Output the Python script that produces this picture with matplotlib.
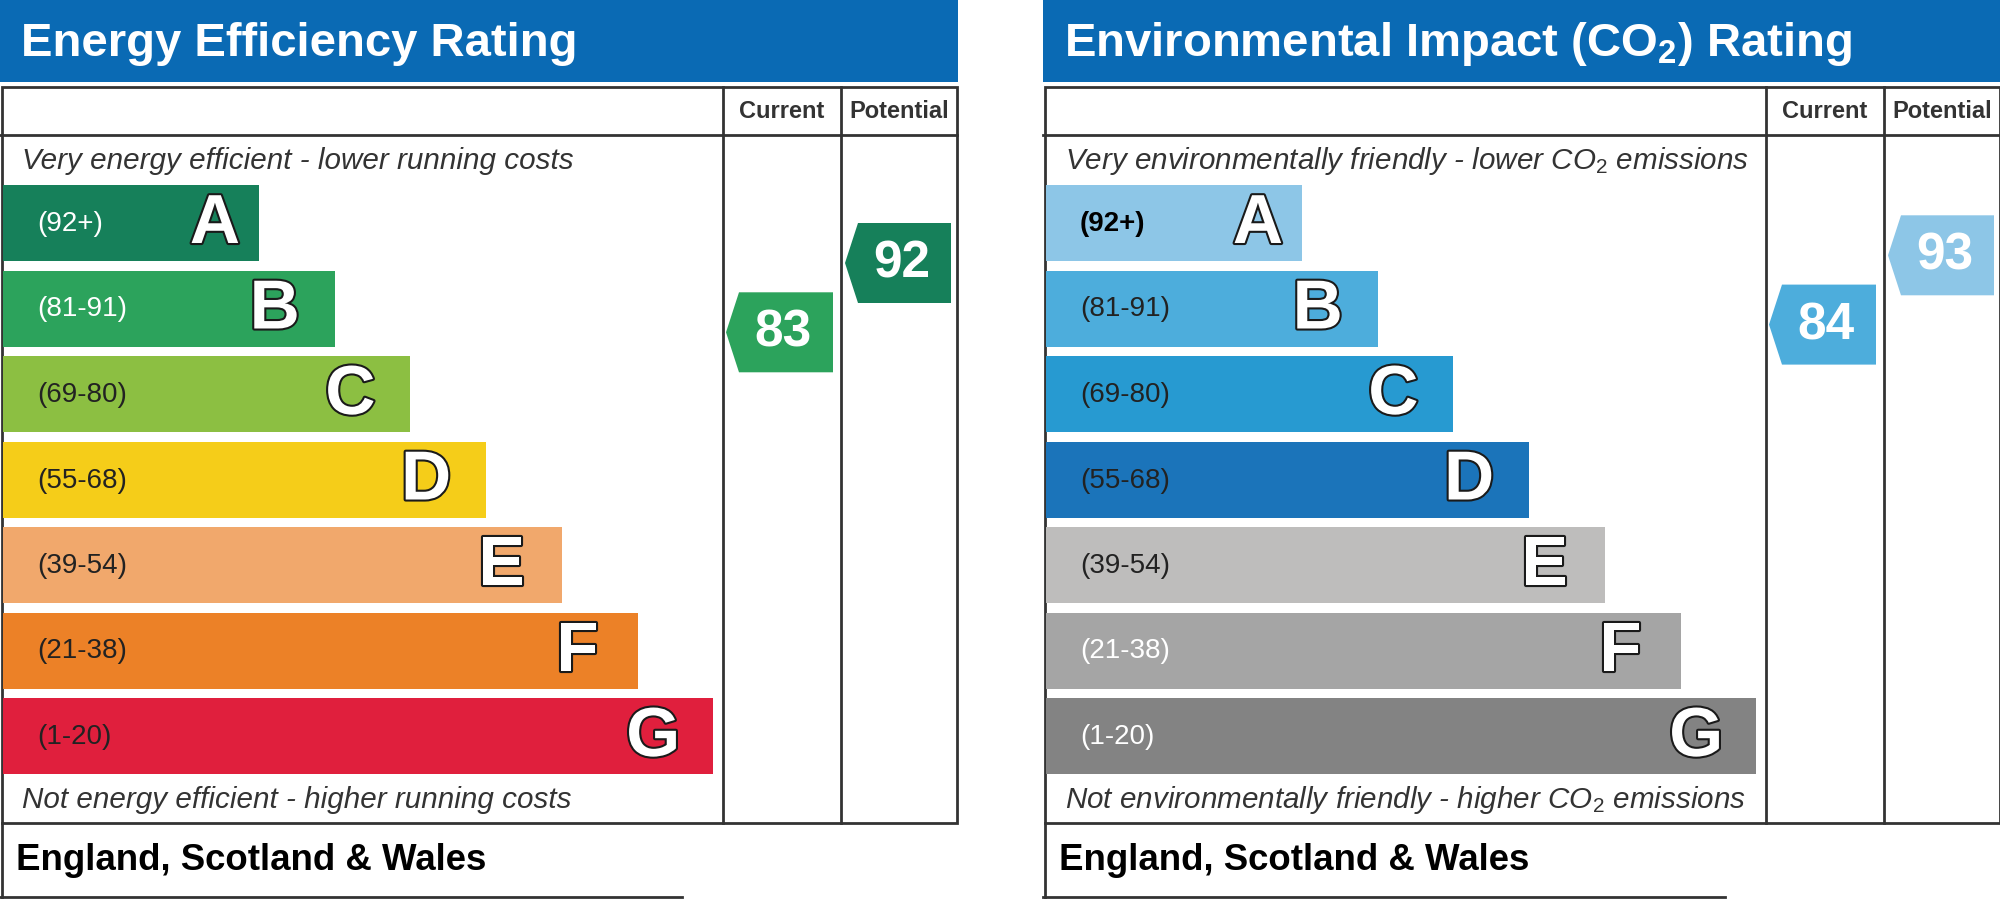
import numpy as np
import matplotlib.pyplot as plt
from matplotlib.patches import Polygon, Rectangle
import matplotlib.patheffects as pe

plt.rcParams['font.family'] = ['Liberation Sans', 'DejaVu Sans']
plt.rcParams['mathtext.fontset'] = 'custom'
plt.rcParams['mathtext.rm'] = 'Liberation Sans'
plt.rcParams['mathtext.it'] = 'Liberation Sans:italic'
plt.rcParams['mathtext.bf'] = 'Liberation Sans:bold'

# data
bands = ['A', 'B', 'C', 'D', 'E', 'F', 'G']
ranges = ['(92+)', '(81-91)', '(69-80)', '(55-68)', '(39-54)', '(21-38)', '(1-20)']
ee_colors = ['#16805a', '#2ca35c', '#8cbf42', '#f5cd19', '#f1a86c', '#ec8127', '#e01f3d']
ee_label_colors = ['white', 'white', '#222222', '#222222', '#222222', '#222222', '#222222']
ei_colors = ['#8dc6e7', '#4daddc', '#279ad1', '#1b74ba', '#bebdbc', '#a5a5a5', '#838383']
ei_label_colors = ['black', '#222222', '#222222', '#222222', '#222222', 'white', 'white']
ee_current, ee_potential = 83, 92
ei_current, ei_potential = 84, 93

W, H = 2000, 899
fig = plt.figure(figsize=(20, 8.99), dpi=100)
ax = fig.add_axes([0, 0, 1, 1])
ax.set_xlim(0, W)
ax.set_ylim(H, 0)
ax.axis('off')

LINE = '#333333'
BLUE = '#0a6ab4'


def rating_y(r):
    return 263 + (92 - r) * 7.7


def arrow(x0, x1, r, color):
    cy = rating_y(r)
    pts = [(x0, cy), (x0 + 13, cy - 40), (x1, cy - 40), (x1, cy + 40), (x0 + 13, cy + 40)]
    ax.add_patch(Polygon(pts, closed=True, color=color, lw=0))
    ax.text((x0 + 13 + x1) / 2 - 3, cy + 1, str(r), color='white', fontsize=37,
            fontweight='bold', ha='center', va='center')


def panel(x0, title, top, bottom, colors, lcolors, cur, pot):
    # title bar
    ax.add_patch(Rectangle((x0, 0), 958, 82, color=BLUE, lw=0))
    ax.text(x0 + 21, 44, title, color='white', fontsize=34, fontweight='bold',
            va='center', ha='left')
    # table
    ax.add_patch(Rectangle((x0 + 1.5, 87), 955, 736, fill=False, ec=LINE, lw=2))
    ax.plot([x0, x0 + 957], [135, 135], color=LINE, lw=2)
    for cx in (723, 841):
        ax.plot([x0 + cx, x0 + cx], [87, 823], color=LINE, lw=2)
    ax.text(x0 + 782, 112, 'Current', fontsize=17, fontweight='bold', color=LINE,
            ha='center', va='center')
    ax.text(x0 + 899, 112, 'Potential', fontsize=17, fontweight='bold', color=LINE,
            ha='center', va='center')
    ax.text(x0 + 22, 161, top, fontsize=21.3, style='italic', color=LINE, va='center')
    ax.text(x0 + 22, 800, bottom, fontsize=21.3, style='italic', color=LINE, va='center')

    # bands
    idx = np.arange(len(bands))
    centers = 223 + 85.5 * idx
    widths = 256 + 75.7 * idx
    ax.barh(centers, widths, left=x0 + 3, height=76, color=colors, lw=0)
    for i in idx:
        ax.text(x0 + 37, centers[i] + 1, ranges[i], fontsize=20, color=lcolors[i],
                fontweight='bold' if lcolors[i] == 'black' else 'normal',
                ha='left', va='center')
        off = 44 if i == 0 else 60
        ax.text(x0 + 3 + widths[i] - off, centers[i] + 2, bands[i], fontsize=50,
                fontweight='bold', color='white', ha='center', va='center',
                path_effects=[pe.withStroke(linewidth=3, foreground='#1a1a1a')])

    arrow(x0 + 726, x0 + 833, cur, colors[1])
    arrow(x0 + 845, x0 + 951, pot, colors[0])

    # country box
    ax.plot([x0 + 1.5, x0 + 1.5], [823, 899], color=LINE, lw=2)
    ax.plot([x0, x0 + 682], [897, 897], color=LINE, lw=2)
    ax.text(x0 + 16, 860, 'England, Scotland & Wales', fontsize=26.4, fontweight='bold',
            color='black', ha='left', va='center')


panel(0, 'Energy Efficiency Rating',
      'Very energy efficient - lower running costs',
      'Not energy efficient - higher running costs',
      ee_colors, ee_label_colors, ee_current, ee_potential)
panel(1043, r'Environmental Impact (CO$_\mathbf{2}$) Rating',
      r'Very environmentally friendly - lower CO$_2$ emissions',
      r'Not environmentally friendly - higher CO$_2$ emissions',
      ei_colors, ei_label_colors, ei_current, ei_potential)

fig.savefig('out.png', dpi=100, facecolor='white')
